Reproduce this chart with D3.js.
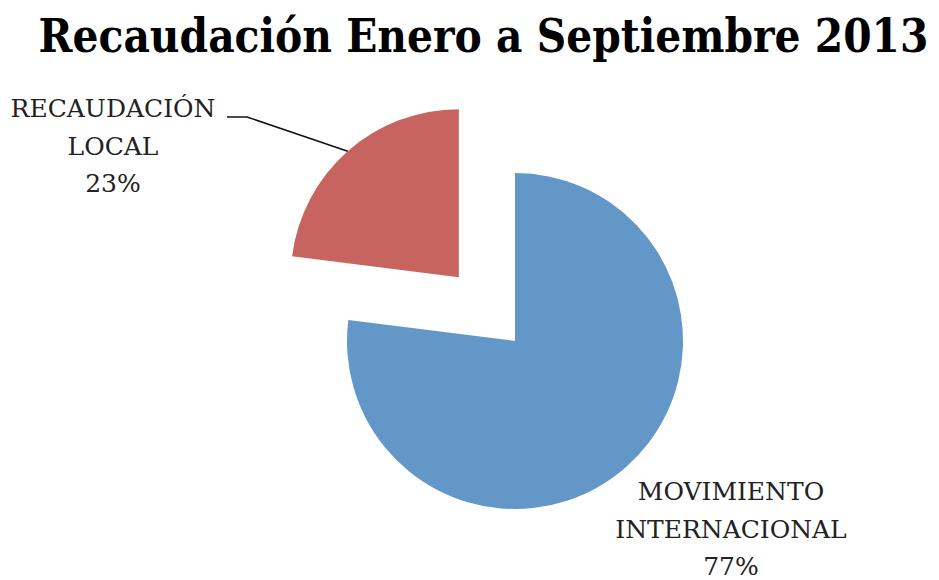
<!DOCTYPE html>
<html>
<head>
<meta charset="utf-8">
<script src="https://cdn.jsdelivr.net/npm/d3@7"></script>
<style>
  html, body { margin: 0; padding: 0; background: #fff; }
  svg { display: block; }
</style>
</head>
<body>
<svg id="chart" width="939" height="580"></svg>
<script>
// ---- data ----
const title = "Recaudación Enero a Septiembre 2013";
const categories = ["MOVIMIENTO INTERNACIONAL", "RECAUDACIÓN LOCAL"];
const values = [77, 23];
const labelLines = [["MOVIMIENTO", "INTERNACIONAL"], ["RECAUDACIÓN", "LOCAL"]];
const colors = ["#6397C7", "#C8645F"];

// ---- layout ----
const W = 939, H = 580;
const cx = 515, cy = 341, R = 168;
const explode = [0, 85];
const labelPos = [{x: 731, y: 500}, {x: 113, y: 117}];
const lineH = 37.5;
const titleCenterX = 483.5, titleBaseline = 52, titleWidth = 890;

const svg = d3.select("#chart");

// title: measured, then horizontally scaled to the reference width
const titleG = svg.append("g");
const titleText = titleG.append("text")
  .attr("x", 0).attr("y", 0)
  .attr("text-anchor", "middle")
  .attr("font-family", "DejaVu Serif, Liberation Serif, serif")
  .attr("font-weight", "bold")
  .attr("font-size", 46)
  .attr("fill", "#000")
  .text(title);
const natural = titleText.node().getComputedTextLength();
const sx = Math.min(1, titleWidth / natural);
titleG.attr("transform", `translate(${titleCenterX},${titleBaseline}) scale(${sx},1)`);

const pie = d3.pie().sort(null).value(d => d)(values);
const arc = d3.arc().innerRadius(0).outerRadius(R);

const g = svg.append("g").attr("transform", `translate(${cx},${cy})`);

pie.forEach((p, i) => {
  const mid = (p.startAngle + p.endAngle) / 2;
  const dx = Math.sin(mid) * explode[i], dy = -Math.cos(mid) * explode[i];
  g.append("path")
    .attr("d", arc(p))
    .attr("transform", `translate(${dx},${dy})`)
    .attr("fill", colors[i]);

  const pct = Math.round(p.value / d3.sum(values) * 100) + "%";
  const lines = labelLines[i].concat([pct]);
  const t = svg.append("text")
    .attr("font-family", "DejaVu Serif, Liberation Serif, serif")
    .attr("font-size", 25)
    .attr("fill", "#222")
    .attr("text-anchor", "middle");
  lines.forEach((ln, k) => {
    t.append("tspan").attr("x", labelPos[i].x).attr("y", labelPos[i].y + k * lineH).text(ln);
  });

  if (explode[i] > 0) {
    // leader line from arc edge at mid-angle to label
    const ex = cx + dx + Math.sin(mid) * R, ey = cy + dy - Math.cos(mid) * R;
    svg.append("polyline")
      .attr("points", [[ex, ey], [247, 117], [227, 117]].map(q => q.join(",")).join(" "))
      .attr("fill", "none")
      .attr("stroke", "#111")
      .attr("stroke-width", 1.5);
  }
});
</script>
</body>
</html>
